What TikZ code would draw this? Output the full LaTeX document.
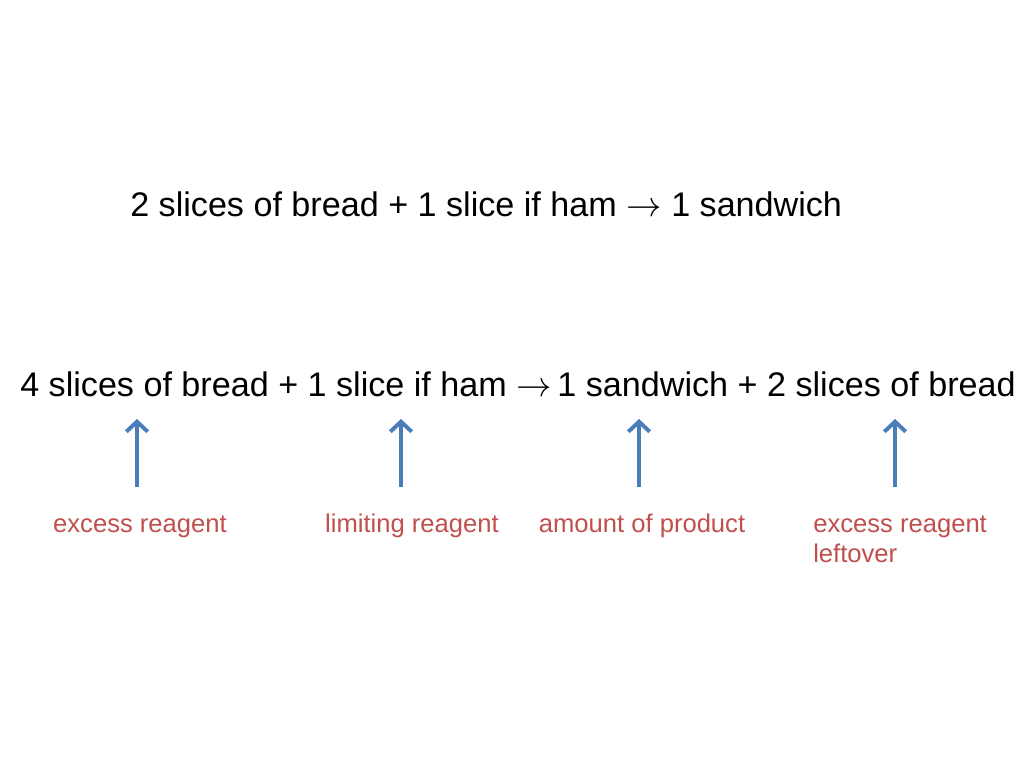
\documentclass[tikz,border=0pt]{standalone}
\usepackage{fontspec}
\setmainfont{Liberation Sans}
\usetikzlibrary{arrows.meta}
\definecolor{arrblue}{HTML}{4A7EBB}
\definecolor{labred}{HTML}{C0504D}
\begin{document}
\begin{tikzpicture}[x=0.703125pt,y=-0.703125pt,
  eqtext/.style={anchor=base west,inner sep=0pt,font=\fontsize{24}{29}\selectfont,text=black},
  labtext/.style={anchor=base,inner sep=0pt,font=\fontsize{18}{21.6}\selectfont,text=labred},
  uparrow/.style={draw=arrblue,line width=2.8pt,-{Straight Barb[length=7pt,width=15pt]}}]
\useasboundingbox[fill=white] (0,0) rectangle (1024,768);
\node[eqtext] (eq1) at (130,217) {2 slices of bread + 1 slice if ham $\rightarrow$ 1 sandwich};
\node[eqtext] (eq2) at (20,396) {4 slices of bread + 1 slice if ham $\rightarrow$\,1 sandwich + 2 slices of bread};
\coordinate (b1) at (137,487); \coordinate (t1) at (137,419);
\coordinate (b2) at (401,487); \coordinate (t2) at (401,419);
\coordinate (b3) at (639,487); \coordinate (t3) at (639,419);
\coordinate (b4) at (895,487); \coordinate (t4) at (895,419);
\draw[uparrow] (b1) -- (t1);
\draw[uparrow] (b2) -- (t2);
\draw[uparrow] (b3) -- (t3);
\draw[uparrow] (b4) -- (t4);
\node[labtext] (l1) at (140,532) {excess reagent};
\node[labtext] (l2) at (412,532) {limiting reagent};
\node[labtext] (l3) at (642,532) {amount of product};
\node[labtext,anchor=base west] (l4a) at (813,532) {excess reagent};
\node[labtext,anchor=base west] (l4b) at (813,562) {leftover};
\end{tikzpicture}
\end{document}
